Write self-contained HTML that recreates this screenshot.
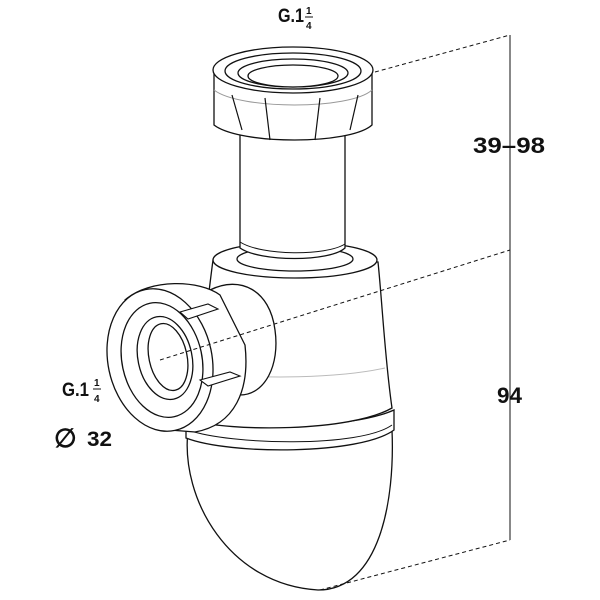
<!DOCTYPE html>
<html><head><style>body{margin:0;background:#fff}svg{display:block}text{font-family:"Liberation Sans",sans-serif;font-weight:bold;fill:#111}</style></head>
<body>
<svg width="600" height="600" viewBox="0 0 600 600" xmlns="http://www.w3.org/2000/svg">
<g fill="#fff" stroke="#111" stroke-width="1.3">
<path d="M188 430 C180 500 230 585 318 590 C380 590 395 500 392 430 Z"/>
<path d="M186 420 L186 438 C230 455 360 455 394 430 L394 410 C350 430 230 430 186 420Z"/>
<path d="M188 430 C230 445 360 448 392 425" fill="none" stroke-width="1"/>
<path d="M213 260 C205 320 200 380 190 420 C230 432 350 432 392 408 C385 360 382 300 378 262 Z"/>
<path d="M200 372 C260 380 340 378 385 368" fill="none" stroke="#bbb" stroke-width="1"/>
<ellipse cx="295" cy="260" rx="82" ry="18"/>
<ellipse cx="295" cy="259" rx="58" ry="12" fill="#fff"/>
<path d="M240 110 L240 248 C260 262 330 262 345 248 L345 110 Z"/>
<path d="M240 242 C262 256 326 256 345 244" fill="none" stroke-width="1"/>
<path d="M214 72 L214 125 C240 145 350 145 372 125 L372 72 Z"/>
<path d="M214 90 C240 110 350 110 372 90" fill="none" stroke="#999" stroke-width="1"/>
<path d="M232 95 l10 35 M265 98 l5 42 M320 98 l-5 42 M358 95 l-8 35" fill="none" stroke-width="1.2"/>
<ellipse cx="293" cy="70" rx="80" ry="23"/>
<ellipse cx="293" cy="71" rx="68" ry="18"/>
<ellipse cx="293" cy="73" rx="55" ry="14"/>
<ellipse cx="293" cy="76" rx="45" ry="11"/>
<path d="M210 290 C240 275 270 290 275 330 C280 365 265 395 240 395 Z"/>
<path d="M125 300 C150 278 200 280 220 295 L245 345 C250 390 235 425 195 432 L170 430 Z"/>
<ellipse cx="160" cy="360" rx="52" ry="72" transform="rotate(-12 160 360)"/>
<ellipse cx="162" cy="360" rx="40" ry="58" transform="rotate(-12 162 360)"/>
<ellipse cx="165" cy="358" rx="27" ry="42" transform="rotate(-12 165 358)"/>
<ellipse cx="168" cy="357" rx="19" ry="34" transform="rotate(-12 168 357)"/>
<path d="M180 312 l28 -8 l10 5 l-30 10 Z M200 380 l30 -8 l10 4 l-32 10 Z" stroke-width="1.1"/>
</g>
<g stroke="#111" stroke-width="1" fill="none">
<path d="M375 72 L510 35 M160 360 L510 250 M320 590 L510 540" stroke-dasharray="4 3"/>
<path d="M510 35 V250 M510 250 V540"/>
</g>
<text x="278" y="22" font-size="19" textLength="26" lengthAdjust="spacingAndGlyphs">G.1</text><text x="306" y="14" font-size="10">1</text><line x1="305" y1="17" x2="313" y2="17" stroke="#111"/><text x="306" y="29" font-size="10">4</text>
<text x="473" y="153" font-size="22" textLength="72" lengthAdjust="spacingAndGlyphs">39–98</text>
<text x="497" y="403" font-size="22" textLength="25" lengthAdjust="spacingAndGlyphs">94</text>
<text x="62" y="396" font-size="19" textLength="27" lengthAdjust="spacingAndGlyphs">G.1</text><text x="94" y="386" font-size="10">1</text><line x1="93" y1="389" x2="101" y2="389" stroke="#111"/><text x="94" y="402" font-size="10">4</text>
<text x="54" y="447" font-size="26" font-weight="normal">∅</text><text x="87" y="446" font-size="21" textLength="25" lengthAdjust="spacingAndGlyphs">32</text>
</svg>
</body></html>
